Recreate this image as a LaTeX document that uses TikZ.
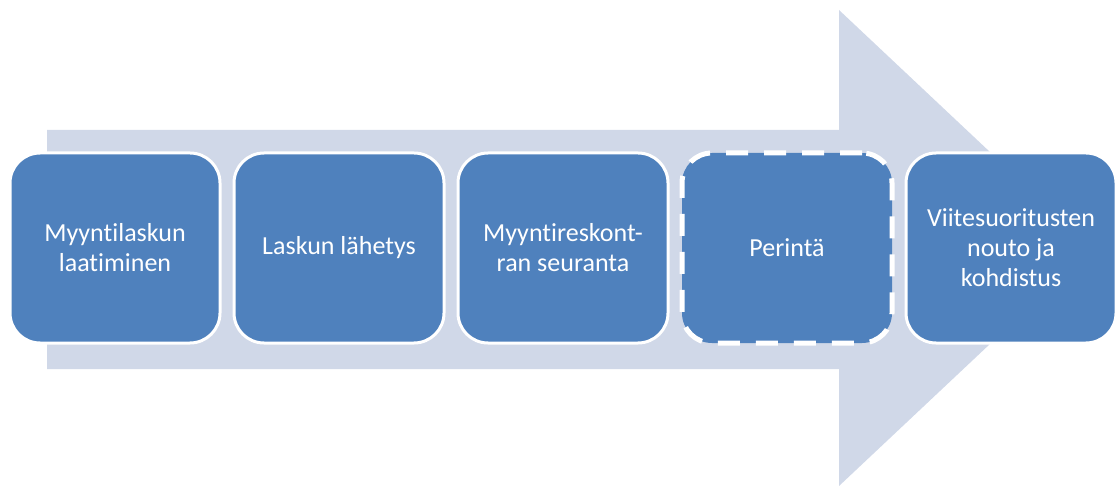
\documentclass[tikz,border=0pt]{standalone}
\usepackage{fontspec}
\setmainfont{Carlito}[Ligatures=NoCommon]
\definecolor{stepblue}{HTML}{4F81BD}
\definecolor{arrowgray}{HTML}{D0D8E8}

\begin{document}
\begin{tikzpicture}[x=1pt,y=-1pt,
  stepbox/.style={rectangle, rounded corners=30pt, fill=stepblue, draw=white,
    line width=3pt, minimum width=210pt, minimum height=190pt,
    align=center, text=white, font=\fontsize{26}{30}\selectfont, inner sep=0pt},
  dashbox/.style={stepbox, line width=5pt, dash pattern=on 22pt off 16pt}]

\useasboundingbox (0,0) rectangle (1116,486);

% Define row height and column positions
\def\rowy{248}
\def\cola{115}
\def\colb{339}
\def\colc{563}
\def\cold{787}
\def\cole{1011}

% Big background arrow
\fill[arrowgray] (47,130) -- (839,130) -- (839,10) -- (1092,\rowy)
  -- (839,486) -- (839,369) -- (47,369) -- cycle;

% Process steps
\node[stepbox] (laatiminen) at (\cola, \rowy) {Myyntilaskun\\laatiminen};
\node[stepbox] (lahetys) at (\colb, \rowy) {Laskun lähetys};
\node[stepbox] (seuranta) at (\colc, \rowy) {Myyntireskont-\\ran seuranta};
\node[dashbox] (perinta) at (\cold, \rowy) {Perintä};
\node[stepbox] (kohdistus) at (\cole, \rowy) {Viitesuoritusten\\nouto ja\\kohdistus};

\end{tikzpicture}
\end{document}
